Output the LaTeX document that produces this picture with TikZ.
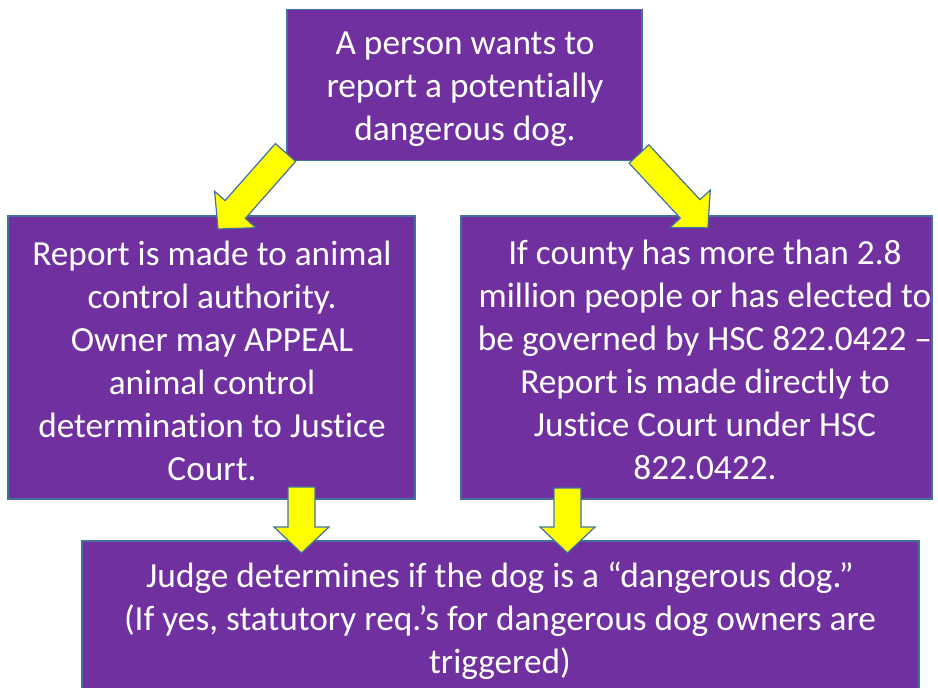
\documentclass[tikz,border=0pt]{standalone}
\usepackage{fontspec}
\setmainfont[Ligatures=NoCommon]{Carlito}
\definecolor{boxpurple}{HTML}{7030A0}
\definecolor{edgeblue}{HTML}{41719C}
\definecolor{arrowyellow}{HTML}{FFFF00}
\newcommand{\blkarrow}[4]{% x, y, angle, length
  \begin{scope}[shift={(#1,#2)}, rotate=#3]
    \draw[arrowshape] (0,-13.5) -- (#4-26,-13.5) -- (#4-26,-27.5) -- (#4,0)
      -- (#4-26,27.5) -- (#4-26,13.5) -- (0,13.5) -- cycle;
  \end{scope}}
\tikzset{
  box/.style={draw=edgeblue, line width=1.2pt, fill=boxpurple, inner sep=0pt},
  boxtext/.style={text=white, align=center, inner sep=0pt,
    font=\fontsize{35.3}{43}\selectfont},
  arrowshape/.style={draw=edgeblue, line width=1.2pt, fill=arrowyellow, line join=miter}
}
\begin{document}
\begin{tikzpicture}[x=1pt, y=-1pt]
\useasboundingbox (0,0) rectangle (938,688);
\clip (0,0) rectangle (938,688);
\node[box, minimum width=355, minimum height=151] (top) at (464.5,85) {};
\node[boxtext] (toptext) at (465,89)
  {A person wants to\\report a potentially\\dangerous dog.};
\node[box, minimum width=407, minimum height=283] (left) at (211.5,357.5) {};
\node[boxtext] (lefttext) at (212,361)
  {Report is made to animal\\control authority.\\Owner may APPEAL\\animal control\\determination to Justice\\Court.};
\node[box, minimum width=471, minimum height=283] (right) at (696.5,357.5) {};
\node[boxtext] (righttext) at (705,360)
  {If county has more than 2.8\\million people or has elected to\\be governed by HSC 822.0422 --\\Report is made directly to\\Justice Court under HSC\\822.0422.};
\node[box, minimum width=837, minimum height=180] (bottom) at (500.5,631) {};
\node[boxtext] (bottomtext) at (500,621)
  {Judge determines if the dog is a “dangerous dog.”\\(If yes, statutory req.’s for dangerous dog owners are\\triggered)};
\blkarrow{285.5}{152.5}{-131.4}{102}
\blkarrow{639}{154}{-47}{101}
\blkarrow{301.5}{487}{-90}{66}
\blkarrow{567.5}{488}{-90}{65}
\end{tikzpicture}
\end{document}
